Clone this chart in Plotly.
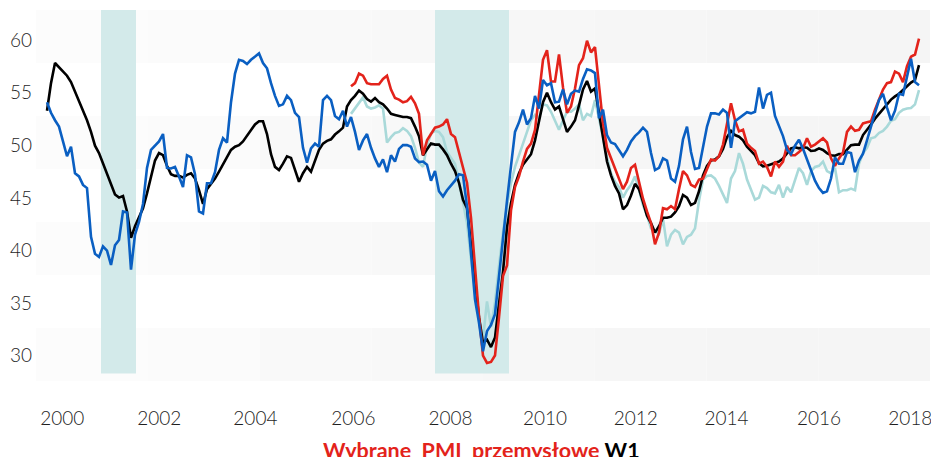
import plotly.graph_objects as go

# Monthly observations, Jan 2000 .. Mar 2018 (219 months)
MONTHS = [f"{2000 + k // 12}-{k % 12 + 1:02d}" for k in range(219)]
RED_TEAL_START = 76  # red and teal series begin in May 2006

black = [
    53.0, 55.6, 57.5, 57.1, 56.7, 56.3, 55.7, 54.8, 53.9, 52.9,
    52.1, 51.0, 49.7, 49.0, 48.0, 47.1, 46.1, 45.1, 44.8, 44.95,
    43.5, 41.0, 42.1, 43.0, 43.8, 45.2, 46.8, 48.3, 49.0, 48.8,
    47.8, 47.0, 46.85, 46.85, 46.7, 46.95, 47.1, 46.6, 45.5, 44.2,
    45.6, 46.1, 46.6, 47.25, 47.9, 48.6, 49.3, 49.6, 49.75, 50.1,
    50.6, 51.2, 51.7, 52.0, 52.0, 50.8, 48.9, 47.7, 47.4, 48.0,
    48.7, 48.55, 47.5, 46.3, 47.1, 47.7, 47.25, 48.3, 49.3, 49.9,
    50.15, 50.3, 50.75, 51.05, 51.4, 53.4, 54.0, 54.4, 54.9, 54.6,
    54.1, 53.85, 54.2, 53.8, 53.6, 53.2, 52.7, 52.6, 52.5, 52.4,
    52.4, 52.3, 51.5, 50.6, 48.8, 49.4, 49.9, 49.8, 49.8, 49.35,
    48.8, 48.0, 47.3, 46.2, 44.6, 43.8, 40.3, 36.8, 33.5, 31.1,
    31.4, 30.7, 31.6, 34.8, 37.8, 42.0, 44.3, 46.0, 47.1, 47.9,
    48.4, 48.9, 50.2, 52.1, 53.8, 54.7, 53.8, 53.1, 53.4, 52.2,
    51.0, 51.5, 52.1, 53.5, 55.0, 55.8, 54.8, 55.1, 52.7, 50.2,
    48.2, 46.9, 45.9, 45.2, 43.7, 44.1, 45.0, 46.1, 45.6, 44.4,
    43.1, 42.4, 41.5, 42.1, 42.9, 42.9, 43.0, 43.4, 44.0, 45.05,
    44.8, 44.1, 44.3, 45.4, 46.9, 47.8, 48.3, 48.4, 48.7, 49.4,
    50.5, 51.1, 50.7, 50.55, 50.2, 49.6, 49.2, 48.8, 48.05, 47.75,
    47.8, 47.95, 48.05, 48.2, 48.5, 49.0, 49.45, 49.55, 49.45, 49.55,
    49.5, 49.2, 49.25, 49.45, 49.3, 49.0, 48.8, 48.75, 48.9, 48.9,
    49.35, 49.75, 49.8, 49.8, 50.7, 51.15, 51.7, 52.25, 52.7, 53.1,
    53.6, 54.05, 54.35, 54.6, 54.95, 55.35, 55.65, 55.9, 57.3,
]

blue = [
    53.8, 52.8, 52.1, 51.5, 50.1, 48.7, 49.6, 47.1, 46.8, 46.0,
    45.7, 41.1, 39.5, 39.2, 40.2, 39.8, 38.45, 40.3, 40.8, 43.5,
    43.4, 38.0, 41.3, 42.5, 44.2, 47.6, 49.3, 49.7, 50.1, 50.8,
    47.6, 47.55, 47.7, 46.8, 45.8, 48.8, 48.6, 47.0, 43.5, 43.3,
    46.15, 46.15, 47.2, 49.3, 50.4, 50.0, 53.8, 56.5, 57.8, 57.7,
    57.4, 57.8, 58.1, 58.4, 57.5, 57.0, 55.6, 54.4, 53.45, 53.6,
    54.4, 54.0, 52.8, 52.4, 49.5, 48.1, 49.45, 49.9, 49.6, 54.0,
    54.4, 54.0, 52.5, 52.2, 53.0, 51.5, 52.4, 51.0, 49.3, 50.2,
    50.8, 49.5, 48.5, 47.7, 48.4, 47.2, 48.8, 48.2, 49.4, 49.75,
    49.75, 49.6, 48.5, 48.15, 48.2, 47.9, 46.4, 47.3, 45.4, 44.9,
    45.5, 45.95, 46.4, 47.0, 46.9, 43.95, 39.5, 35.2, 33.0, 30.3,
    32.2, 32.8, 33.8, 37.5, 41.4, 44.5, 47.8, 51.0, 51.9, 53.1,
    51.7, 52.3, 54.4, 53.2, 55.9, 55.4, 55.6, 53.8, 53.85, 55.0,
    53.6, 54.6, 54.9, 54.8, 56.0, 56.9, 56.8, 56.55, 52.3, 53.1,
    50.7, 50.0, 49.85, 49.3, 48.7, 49.3, 50.1, 50.6, 50.95, 51.4,
    51.0, 49.0, 47.4, 47.6, 48.5, 48.3, 46.6, 46.3, 47.8, 50.3,
    51.5, 49.1, 47.5, 47.6, 49.7, 51.5, 52.75, 52.75, 52.65, 53.1,
    52.8, 49.5, 52.0, 52.3, 52.6, 52.85, 52.75, 52.9, 55.2, 53.2,
    54.5, 54.7, 52.5, 51.6, 50.6, 49.3, 48.9, 49.7, 50.25, 49.4,
    48.4, 47.3, 46.4, 45.7, 45.25, 45.4, 46.6, 48.6, 48.0, 48.0,
    49.1, 49.0, 47.2, 48.3, 48.95, 50.2, 51.6, 52.8, 54.0, 54.6,
    53.3, 52.1, 53.0, 54.6, 54.5, 56.2, 57.9, 55.7, 55.4,
]

red = [
    55.3, 55.6, 56.5, 56.3,
    55.6, 55.5, 55.5, 55.5, 56.0, 56.3, 55.0, 54.2, 54.05, 53.8,
    53.9, 54.3, 53.7, 52.7, 48.8, 50.2, 50.8, 51.4, 51.5, 51.7,
    52.2, 50.8, 50.5, 49.1, 47.6, 46.2, 42.9, 38.2, 33.6, 29.9,
    29.2, 29.3, 29.9, 33.5, 37.4, 38.4, 43.6, 45.8, 46.8, 48.2,
    49.4, 49.9, 51.2, 54.5, 57.8, 58.7, 55.75, 55.75, 58.3, 55.2,
    52.8, 53.4, 55.1, 57.3, 57.95, 59.6, 58.5, 59.0, 55.6, 51.8,
    49.5, 48.5, 47.6, 46.7, 45.6, 46.3, 47.6, 47.9, 46.3, 44.7,
    43.5, 42.4, 40.4, 41.5, 43.8, 43.7, 44.0, 43.7, 45.6, 47.3,
    46.9, 46.0, 45.8, 46.5, 46.6, 47.6, 48.4, 48.3, 48.7, 49.8,
    51.6, 53.7, 52.1, 51.05, 51.2, 49.9, 49.5, 49.2, 48.0, 48.2,
    47.7, 46.8, 48.2, 47.7, 48.2, 49.7, 48.8, 48.8, 49.1, 49.45,
    50.4, 49.6, 49.8, 50.1, 50.4, 50.0, 48.5, 47.8, 48.5, 49.05,
    51.0, 51.5, 51.1, 51.2, 51.8, 51.9, 52.0, 53.1, 54.0, 55.0,
    55.6, 55.7, 56.7, 56.5, 55.7, 57.2, 58.1, 58.3, 59.8,
]

teal = [
    52.7, 53.2, 53.7, 54.25,
    53.4, 53.2, 53.3, 53.5, 53.2, 50.0, 50.5, 50.9, 51.0, 51.35,
    51.1, 50.6, 49.5, 48.1, 47.7, 49.7, 50.85, 51.1, 51.0, 50.5,
    49.1, 48.6, 48.0, 46.3, 44.5, 42.4, 39.0, 36.0, 33.5, 31.5,
    35.0, 32.6, 34.9, 38.4, 41.5, 44.0, 46.15, 47.7, 48.9, 49.9,
    51.0, 52.1, 52.6, 52.3, 53.6, 53.5, 52.9, 52.1, 51.2, 52.1,
    52.9, 52.9, 53.2, 53.6, 52.1, 52.7, 52.5, 54.0, 52.4, 50.5,
    48.6, 47.1, 46.3, 45.8, 44.8, 45.5, 46.0, 46.8, 45.5, 44.1,
    43.1, 41.9, 41.7, 41.4, 42.8, 40.2, 41.3, 41.75, 41.5, 40.4,
    41.1, 41.3, 41.9, 44.5, 46.5, 46.85, 46.9, 46.6, 45.9, 45.1,
    44.3, 46.6, 47.3, 49.0, 48.0, 46.5, 45.5, 44.6, 44.8, 45.9,
    45.7, 45.3, 45.2, 46.0, 44.8, 45.8, 45.3, 46.4, 47.6, 47.1,
    46.0, 47.3, 47.7, 47.8, 48.2, 47.3, 47.1, 47.6, 45.3, 45.5,
    45.5, 45.65, 45.5, 48.0, 49.0, 49.5, 50.4, 50.5, 50.9, 51.1,
    51.5, 52.05, 52.2, 52.8, 53.1, 53.2, 53.25, 53.6, 54.95,
]

X_TICK_LABELS = ["2000", "2002", "2004", "2006", "2008", "2010", "2012", "2014", "2016", "2018"]
Y_TICKS = [30, 35, 40, 45, 50, 55, 60]
TITLE_RED = "Wybrane  PMI  przemysłowe"
TITLE_BLACK = "W1"

# ---- layout constants ----
X_TICK_POS = [3.8, 28.05, 52.1, 76.6, 100.9, 124.5, 147.2, 169.9, 193.0, 215.8]  # month-index positions
RECESSIONS = [(13.5, 22.25), (97.0, 115.5)]
X_RANGE = [-2.75, 220.75]
Y_RANGE = [27.5, 62.5]          # data / band axis
Y_LABEL_RANGE = [27.596, 62.851]  # tick-label axis (labels sit slightly low in the original)

idx = list(range(len(MONTHS)))
idx_late = idx[RED_TEAL_START:]

fig = go.Figure()

# horizontal bands with a slight left-to-right gradient
band_shades = ["#fcfcfc", "#fbfbfb", "#f9f9f9", "#f8f8f8", "#f7f7f7", "#f6f6f6", "#f5f5f5", "#f5f5f5"]
nseg = len(band_shades)
for lo in [27.5, 37.5, 47.5, 57.5]:
    for s, col in enumerate(band_shades):
        fig.add_shape(type="rect", xref="paper", yref="y",
                      x0=s / nseg, x1=(s + 1) / nseg, y0=lo, y1=lo + 5,
                      fillcolor=col, line_width=0, layer="below")

for a, b in RECESSIONS:
    fig.add_shape(type="rect", xref="x", yref="y", x0=a, x1=b, y0=28.2, y1=62.5,
                  fillcolor="#d3eaea", line_width=0, layer="below")

LW = 2.6
fig.add_trace(go.Scatter(x=idx_late, y=teal, mode="lines", line=dict(color="#a9d9d9", width=LW),
                         hoverinfo="skip", showlegend=False))
fig.add_trace(go.Scatter(x=idx, y=black, mode="lines", line=dict(color="#000000", width=LW),
                         hoverinfo="skip", showlegend=False))
fig.add_trace(go.Scatter(x=idx_late, y=red, mode="lines", line=dict(color="#e3231b", width=LW),
                         hoverinfo="skip", showlegend=False))
fig.add_trace(go.Scatter(x=idx, y=blue, mode="lines", line=dict(color="#0a5fc2", width=LW),
                         hoverinfo="skip", showlegend=False))
# carrier for the tick-label axis
fig.add_trace(go.Scatter(x=[None], y=[None], yaxis="y2", mode="lines",
                         hoverinfo="skip", showlegend=False))

fig.add_annotation(
    xref="paper", yref="paper", x=0.498, y=-0.146, xanchor="center", yanchor="top",
    showarrow=False,
    text=f"<b><span style='color:#e3231b'>{TITLE_RED}</span> {TITLE_BLACK}</b>",
    font=dict(family="Lato", size=21.5, color="#000000"),
)

TICK_FONT = dict(family="Lato", size=19, color="#1e1e1e", weight=300)

fig.update_layout(
    width=931, height=457,
    margin=dict(l=36, r=1, t=10, b=76, autoexpand=False),
    paper_bgcolor="white", plot_bgcolor="white",
    hovermode=False,
    xaxis=dict(range=X_RANGE, tickvals=X_TICK_POS, ticktext=X_TICK_LABELS,
               showgrid=False, zeroline=False, showline=False, ticks="",
               automargin=False, ticklabelstandoff=24, ticklabeloverflow="allow",
               tickfont=TICK_FONT),
    yaxis=dict(range=Y_RANGE, showticklabels=False, showgrid=False, zeroline=False,
               showline=False, ticks="", automargin=False),
    yaxis2=dict(range=Y_LABEL_RANGE, tickvals=Y_TICKS, overlaying="y", side="left",
                showgrid=False, zeroline=False, showline=False, ticks="",
                automargin=False, ticklabelstandoff=3, ticklabeloverflow="allow",
                tickfont=TICK_FONT),
)

fig.write_html("out.html", config={"displayModeBar": False, "staticPlot": True},
               post_script="document.body.style.margin='0px';")
